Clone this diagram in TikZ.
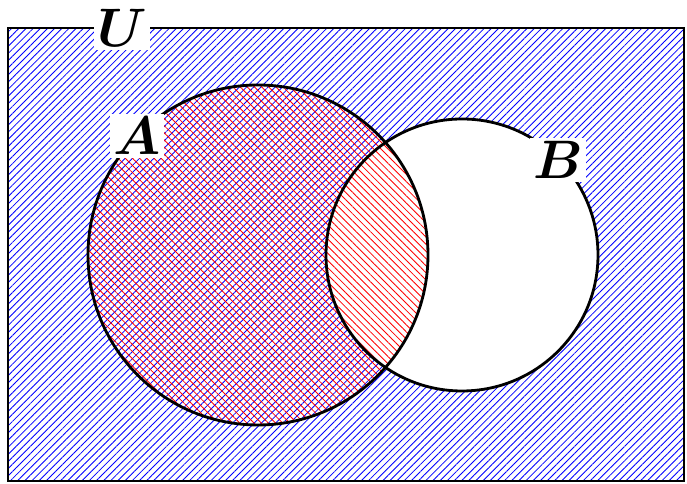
\documentclass[tikz,border=0pt]{standalone}
\usepackage{amsmath,bm}
\usetikzlibrary{patterns.meta}
\begin{document}
\begin{tikzpicture}[x=0.025cm, y=0.025cm, line width=2pt,
  setlabel/.style={fill=white, inner sep=1.5pt, font=\Huge, scale=1.55},
  nelines/.style={pattern={Lines[angle=45, distance=3.6pt, line width=0.6pt]}},
  nwlines/.style={pattern={Lines[angle=-45, distance=3.6pt, line width=0.6pt]}}]
\useasboundingbox (0,0) rectangle (687,484);
% universe, hatched outside B
\draw[nelines, pattern color=blue] (8,3) rectangle (684,456);
\coordinate (ca) at (258,229);
\coordinate (cb) at (462,229);
\fill[white] (cb) circle (136);
% set A
\fill[nwlines, pattern color=red] (ca) circle (170);
\draw (ca) circle (170);
\draw (cb) circle (136);
% labels
\node[setlabel] (u) at (122,456) {$\bm{U}$};
\node[setlabel] (a) at (137,348) {$\bm{A}$};
\node[setlabel] (b) at (558,324) {$\bm{B}$};
\end{tikzpicture}
\end{document}
